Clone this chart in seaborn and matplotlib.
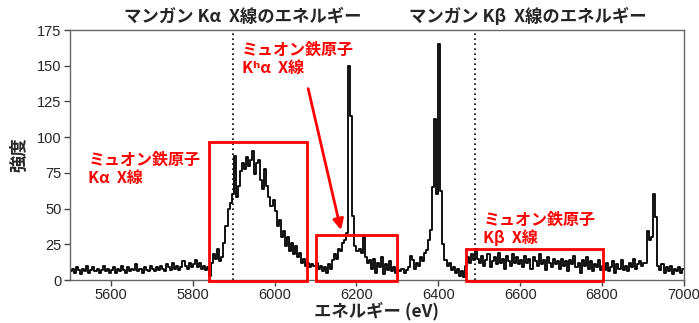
"""
Muonic iron X-ray spectrum vs manganese K lines
"""
import numpy as np
import pandas as pd
import matplotlib
matplotlib.use('Agg')
import matplotlib.pyplot as plt
import seaborn as sns
from matplotlib.patches import Rectangle

# --- data: counts per 5 eV bin, 5500-7000 eV ---
bin_start = 5500
bin_width = 5
counts_5500 = [6, 8, 5, 9, 7, 4, 8, 6, 10, 5, 7, 9, 6, 8, 5, 7, 10, 6, 8, 5]
counts_5600 = [7, 9, 5, 8, 6, 10, 7, 5, 9, 6, 8, 7, 11, 6, 8, 5, 9, 7, 6, 10]
counts_5700 = [8, 6, 9, 7, 10, 8, 6, 11, 9, 7, 12, 8, 10, 7, 9, 13, 10, 8, 12, 9]
counts_5800 = [11, 14, 9, 12, 8, 10, 7, 9, 3, 12, 18, 15, 22, 13, 16, 26, 38, 50, 54, 60]
counts_5900 = [87, 58, 66, 76, 82, 78, 86, 80, 84, 90, 74, 82, 84, 70, 64, 78, 66, 58, 52, 56]
counts_6000 = [48, 38, 42, 30, 34, 24, 30, 20, 26, 18, 24, 16, 19, 12, 15, 10, 12, 9, 11, 10]
counts_6100 = [12, 8, 10, 6, 9, 5, 11, 8, 14, 18, 15, 22, 20, 26, 28, 33, 150, 115, 45, 24]
counts_6200 = [20, 22, 19, 30, 16, 12, 14, 8, 15, 5, 12, 9, 16, 4, 11, 7, 13, 6, 9, 5]
counts_6300 = [7, 6, 8, 5, 7, 9, 17, 14, 8, 12, 10, 16, 13, 19, 21, 28, 35, 65, 113, 60]
counts_6400 = [165, 62, 25, 14, 10, 12, 7, 9, 5, 8, 3, 6, 2, 10, 16, 12, 18, 14, 22, 15]
counts_6500 = [12, 17, 10, 14, 18, 9, 13, 16, 11, 19, 12, 15, 8, 17, 13, 10, 18, 12, 16, 11]
counts_6600 = [14, 9, 17, 12, 15, 8, 16, 13, 10, 18, 11, 14, 7, 16, 12, 9, 15, 11, 13, 8]
counts_6700 = [15, 10, 13, 6, 14, 11, 17, 9, 12, 5, 14, 10, 16, 8, 13, 6, 11, 9, 14, 7]
counts_6800 = [10, 7, 12, 6, 9, 13, 5, 11, 8, 14, 7, 10, 6, 12, 9, 15, 8, 11, 13, 10]
counts_6900 = [12, 12, 34, 28, 30, 60, 44, 10, 7, 11, 5, 9, 6, 10, 4, 8, 6, 9, 5, 8]

mn_lines = [5899, 6490]
mn_labels = ['マンガン Kα  X線のエネルギー', 'マンガン Kβ  X線のエネルギー']
mn_label_x = [5923, 6619]

# red boxes: (x0, x1, height)
boxes = [(5840, 6080, 96.5), (6100, 6300, 31.5), (6467, 6802, 22)]

counts = (counts_5500 + counts_5600 + counts_5700 + counts_5800 + counts_5900
          + counts_6000 + counts_6100 + counts_6200 + counts_6300 + counts_6400
          + counts_6500 + counts_6600 + counts_6700 + counts_6800 + counts_6900)
n_bins = len(counts)
bin_end = bin_start + bin_width * n_bins
centers = bin_start + bin_width * (np.arange(n_bins) + 0.5)
df = pd.DataFrame({'energy': centers, 'counts': counts})

# --- style ---
sns.set_style('ticks')
plt.rcParams['font.family'] = ['Noto Sans CJK JP', 'DejaVu Sans']
cjk = ['Noto Sans CJK JP', 'DejaVu Sans']
red = '#ff0000'

fig = plt.figure(figsize=(6.99, 3.23), dpi=100)
ax = fig.add_axes([0.100, 0.133, 0.8785, 0.774])

sns.histplot(data=df, x='energy', weights='counts', binwidth=bin_width,
             binrange=(bin_start, bin_end), element='step', fill=False,
             color='black', linewidth=1.3, ax=ax)

for xv in mn_lines:
    ax.axvline(xv, color='black', linestyle=(0, (1, 2)), linewidth=1.2)

for x0, x1, h in boxes:
    ax.add_patch(Rectangle((x0, -0.8), x1 - x0, h + 0.8, fill=False,
                           edgecolor=red, linewidth=2.0, clip_on=False, zorder=5))

for lbl, xv in zip(mn_labels, mn_label_x):
    ax.text(xv, 178, lbl, ha='center', va='bottom', fontsize=12.5,
            fontweight='bold', family=cjk)

ax.text(5545, 78, 'ミュオン鉄原子\nKα  X線', color=red, fontsize=11.5,
        fontweight='bold', family=cjk, va='center', ha='left', linespacing=1.15)
ax.text(5921, 155, 'ミュオン鉄原子\nKʰα  X線', color=red, fontsize=11.5,
        fontweight='bold', family=cjk, va='center', ha='left', linespacing=1.15)
ax.text(6510, 36, 'ミュオン鉄原子\nKβ  X線', color=red, fontsize=11.5,
        fontweight='bold', family=cjk, va='center', ha='left', linespacing=1.15)

ax.annotate('', xy=(6162, 35), xytext=(6082, 134),
            arrowprops=dict(arrowstyle='-|>', color=red, lw=2.0,
                            mutation_scale=16, shrinkA=0, shrinkB=0))

ax.set_xlim(5500, 7000)
ax.set_ylim(0, 175)
ax.set_xticks(np.arange(5600, 7001, 200))
ax.set_yticks(np.arange(0, 176, 25))
for lab in ax.get_xticklabels() + ax.get_yticklabels():
    lab.set_family('Liberation Sans')
    lab.set_fontsize(10.5)
ax.tick_params(direction='out', length=4, width=1, color='#444444', pad=2)
for sp in ax.spines.values():
    sp.set_color('#666666')
    sp.set_linewidth(1.0)

ax.set_xlabel('エネルギー (eV)', fontsize=12.5, fontweight='bold', labelpad=0)
ax.set_ylabel('強度', fontsize=12.5, fontweight='bold', labelpad=6)

fig.savefig('out.png', dpi=100)
